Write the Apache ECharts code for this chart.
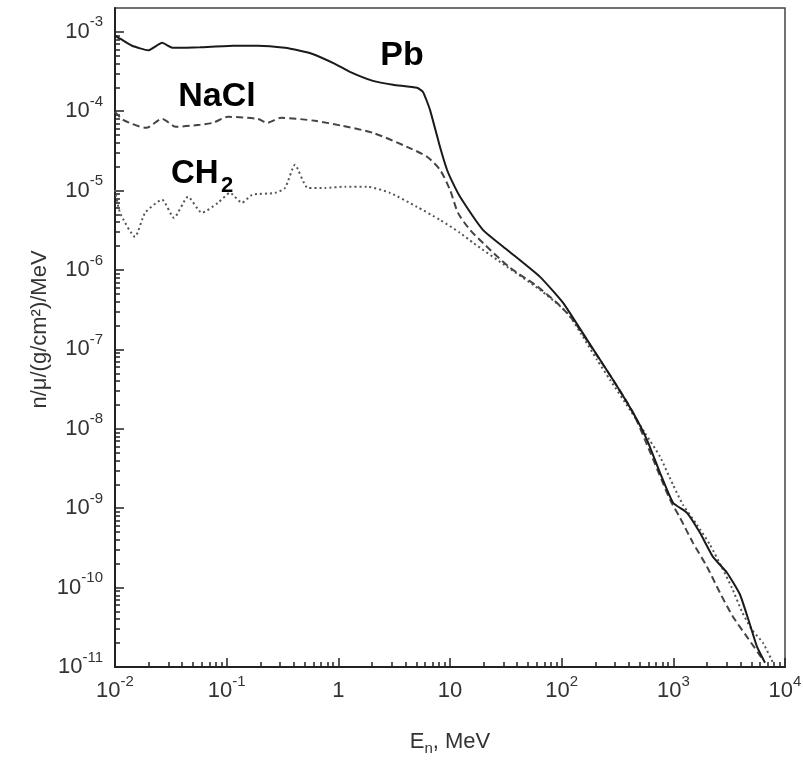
<!DOCTYPE html>
<html><head><meta charset="utf-8">
<script src="https://cdn.jsdelivr.net/npm/echarts@6/dist/echarts.min.js"></script>
<style>html,body{margin:0;padding:0;background:#fff}#c{width:803px;height:760px}</style>
</head><body><div id="c"></div>
<script>
// Neutron energy (MeV) and spectrum n/mu per material
const pbE = [0.01, 0.0111, 0.0142, 0.0198, 0.0264, 0.033, 0.0577, 0.114, 0.191, 0.333, 0.454, 0.58, 0.933, 1.27, 2.04, 3.09, 5.06, 5.73, 6.62, 8.13, 9.4, 10.6, 12.3, 19.7, 32.4, 64, 103, 169, 288, 436, 581, 760, 994, 1325, 1733, 2265, 3025, 3958, 4862, 5613, 6620];
const pbV = [8.9e-4, 8.2e-4, 6.67e-4, 5.85e-4, 7.26e-4, 6.28e-4, 6.37e-4, 6.67e-4, 6.67e-4, 6.29e-4, 5.77e-4, 5.3e-4, 3.95e-4, 3.13e-4, 2.41e-4, 2.15e-4, 1.97e-4, 1.75e-4, 1.04e-4, 3.56e-5, 1.83e-5, 1.25e-5, 8.36e-6, 3.21e-6, 1.8e-6, 8.2e-7, 3.86e-7, 1.32e-7, 4.14e-8, 1.59e-8, 7.27e-9, 2.79e-9, 1.17e-9, 8.75e-10, 4.9e-10, 2.44e-10, 1.54e-10, 8.13e-11, 3.4e-11, 1.8e-11, 1.13e-11];

const naclE = [0.01, 0.0118, 0.019, 0.0264, 0.0352, 0.0577, 0.0755, 0.103, 0.191, 0.23, 0.307, 0.618, 1.08, 2.04, 4.12, 6.22, 8.13, 10.0, 11.8, 15.1, 20.6, 34.4, 57.7, 90.7, 126, 179, 288, 436, 618, 934, 1148, 1500, 2001, 2616, 3421, 4567, 6355];
const naclV = [9.8e-5, 7.8e-5, 6.18e-5, 8.0e-5, 6.37e-5, 6.75e-5, 7.15e-5, 8.5e-5, 8.0e-5, 7.15e-5, 8.26e-5, 7.57e-5, 6.55e-5, 5.34e-5, 3.56e-5, 2.67e-5, 1.83e-5, 1.02e-5, 5.25e-6, 3.21e-6, 2.07e-6, 1.07e-6, 6.52e-7, 3.86e-7, 2.36e-7, 1.14e-7, 4.14e-8, 1.59e-8, 5.13e-9, 1.28e-9, 7.57e-10, 3.66e-10, 1.83e-10, 8.6e-11, 4.29e-11, 2.4e-11, 1.23e-11];

const ch2E = [0.01, 0.0111, 0.0151, 0.0186, 0.0264, 0.0337, 0.0451, 0.0601, 0.0836, 0.107, 0.137, 0.169, 0.271, 0.333, 0.409, 0.535, 0.76, 1.15, 1.81, 2.9, 5.06, 8.13, 12.3, 16.1, 32.4, 64, 112, 155, 207, 271, 409, 557, 760, 994, 1222, 1630, 2130, 2729, 3353, 4121, 5058, 6355, 7803];
const ch2V = [1.02e-5, 5.25e-6, 2.62e-6, 5.25e-6, 7.66e-6, 4.54e-6, 8.36e-6, 5.25e-6, 7.02e-6, 9.37e-6, 7.02e-6, 8.85e-6, 9.37e-6, 1.08e-5, 2.11e-5, 1.08e-5, 1.08e-5, 1.12e-5, 1.12e-5, 9.37e-6, 6.25e-6, 4.28e-6, 2.94e-6, 2.2e-6, 1.1e-6, 5.63e-7, 2.89e-7, 1.44e-7, 7.4e-8, 4.14e-8, 1.73e-8, 8.9e-9, 4.44e-9, 1.97e-9, 1.1e-9, 6.18e-10, 3.46e-10, 1.78e-10, 9.9e-11, 4.95e-11, 2.94e-11, 2.01e-11, 1.13e-11];

// Axis decades (exponents) for tick labels
const xTickExps = [-2, -1, 0, 1, 2, 3, 4];
const yTickExps = [-11, -10, -9, -8, -7, -6, -5, -4, -3];
const xMinExp = -2, xMaxExp = 4, yMinExp = -11, yMaxExp = -2.7;

const FONT = 'Liberation Sans, Arial, Helvetica, sans-serif';
const TXT = '#333';

function minorTicks(lo, hi, maxV) {
  const out = [];
  for (let n = lo; n <= hi; n++) for (let k = 2; k <= 9; k++) {
    const v = n + Math.log10(k);
    if (v <= maxV) out.push(v);
  }
  return out;
}
const toPts = (E, V) => E.map((e, i) => [Math.log10(e), Math.log10(V[i])]);

const rich = {
  b: {fontSize: 22, lineHeight: 34, fontFamily: FONT, color: TXT},
  s: {fontSize: 15, lineHeight: 15, verticalAlign: 'top', fontFamily: FONT, color: TXT}
};

const chart = echarts.init(document.getElementById('c'), null, {renderer: 'canvas'});
const axisLineStyle = {color: '#222', width: 2};
const tickStyle = {color: '#222', width: 1.5};

chart.setOption({
  animation: false,
  backgroundColor: '#fff',
  grid: {left: 115, right: 18, top: 8, bottom: 93, containLabel: false, outerBoundsMode: 'none',
    show: true, borderColor: '#444', borderWidth: 1.5, backgroundColor: 'transparent'},
  xAxis: [{
    type: 'value', min: xMinExp, max: xMaxExp, interval: 1, position: 'bottom',
    axisLine: {show: true, onZero: false, lineStyle: axisLineStyle},
    axisTick: {show: true, inside: true, length: 9, lineStyle: tickStyle, customValues: xTickExps},
    axisLabel: {margin: 7, customValues: xTickExps, rich: rich,
      formatter: v => v === 0 ? '{b|1}' : (v === 1 ? '{b|10}' : '{b|10}{s|' + v + '}')},
    splitLine: {show: false},
    name: '{a|E}{n|n}{a|, MeV}', nameLocation: 'middle', nameGap: 64, nameMoveOverlap: false,
    nameTextStyle: {rich: {
      a: {fontSize: 22, lineHeight: 24, verticalAlign: 'top', fontFamily: FONT, color: TXT},
      n: {fontSize: 15, lineHeight: 36, fontFamily: FONT, color: TXT}
    }}
  }, {
    type: 'value', min: xMinExp, max: xMaxExp, interval: 1, position: 'bottom',
    axisLine: {show: false, onZero: false},
    axisTick: {show: true, inside: true, length: 5, lineStyle: tickStyle, customValues: minorTicks(-2, 3, xMaxExp)},
    axisLabel: {show: false}, splitLine: {show: false}
  }],
  yAxis: [{
    type: 'value', min: yMinExp, max: yMaxExp, interval: 1, position: 'left',
    axisLine: {show: true, onZero: false, lineStyle: axisLineStyle},
    axisTick: {show: true, inside: true, length: 9, lineStyle: tickStyle, customValues: yTickExps},
    axisLabel: {margin: 12, customValues: yTickExps, rich: rich,
      formatter: v => '{b|10}{s|' + v + '}'},
    splitLine: {show: false},
    name: 'n/μ/(g/cm²)/MeV', nameLocation: 'middle', nameGap: 64, nameRotate: 90, nameMoveOverlap: false,
    nameTextStyle: {fontSize: 22, fontFamily: FONT, color: TXT, padding: [0, 0, 0, 16]}
  }, {
    type: 'value', min: yMinExp, max: yMaxExp, interval: 1, position: 'left',
    axisLine: {show: false, onZero: false},
    axisTick: {show: true, inside: true, length: 5, lineStyle: tickStyle, customValues: minorTicks(-11, -3, yMaxExp)},
    axisLabel: {show: false}, splitLine: {show: false}
  }],
  series: [
    {name: 'Pb', type: 'line', data: toPts(pbE, pbV), showSymbol: false, symbol: 'none', smooth: 0.15,
      lineStyle: {color: '#1a1a1a', width: 2, type: 'solid'}, z: 5},
    {name: 'NaCl', type: 'line', data: toPts(naclE, naclV), showSymbol: false, symbol: 'none', smooth: 0.25,
      lineStyle: {color: '#444', width: 2, type: [7, 4]}, z: 4},
    {name: 'CH2', type: 'line', data: toPts(ch2E, ch2V), showSymbol: false, symbol: 'none', smooth: 0.2,
      lineStyle: {color: '#555', width: 2, type: [2, 3]}, z: 3}
  ],
  graphic: [
    {type: 'text', x: 402, y: 56, style: {text: 'Pb', font: 'bold 34px ' + FONT, fill: '#000', align: 'center', verticalAlign: 'middle'}},
    {type: 'text', x: 217, y: 97, style: {text: 'NaCl', font: 'bold 34px ' + FONT, fill: '#000', align: 'center', verticalAlign: 'middle'}},
    {type: 'text', x: 171, y: 174, style: {text: 'CH', font: 'bold 33px ' + FONT, fill: '#000', align: 'left', verticalAlign: 'middle'}},
    {type: 'text', x: 221, y: 186, style: {text: '2', font: 'bold 22px ' + FONT, fill: '#000', align: 'left', verticalAlign: 'middle'}}
  ]
});
</script>
</body></html>
